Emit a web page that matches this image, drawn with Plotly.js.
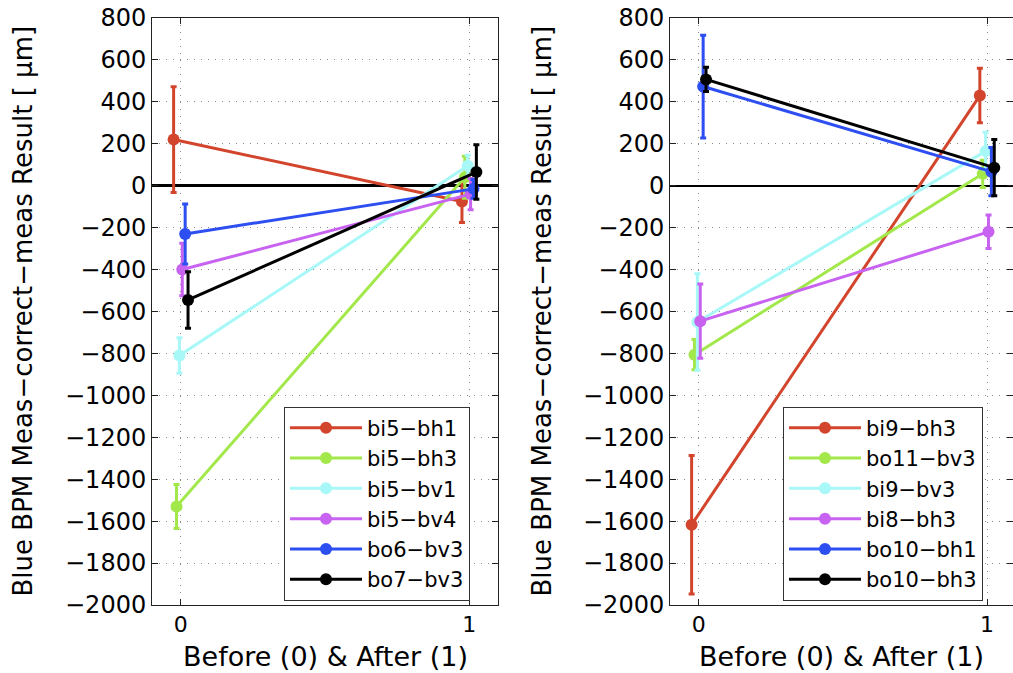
<!DOCTYPE html>
<html>
<head>
<meta charset="utf-8">
<script src="https://cdn.plot.ly/plotly-3.0.1.min.js"></script>
<style>html,body{margin:0;padding:0;background:#fff;overflow:hidden}</style>
</head>
<body>
<div id="chart" style="width:1013px;height:673px"></div>
<script>
// ---- data ----
const xBefore = [-0.025, -0.015, -0.005, 0.005, 0.015, 0.025];
const xAfter  = [0.975, 0.985, 0.995, 1.005, 1.015, 1.025];

const leftNames     = ["bi5−bh1", "bi5−bh3", "bi5−bv1", "bi5−bv4", "bo6−bv3", "bo7−bv3"];
const leftBefore    = [220, -1530, -810, -400, -230, -545];
const leftBeforeErr = [252, 105, 85, 125, 143, 135];
const leftAfter     = [-75, 40, 95, -40, -15, 65];
const leftAfterErr  = [100, 100, 50, 75, 45, 130];

const rightNames     = ["bi9−bh3", "bo11−bv3", "bi9−bv3", "bi8−bh3", "bo10−bh1", "bo10−bh3"];
const rightBefore    = [-1617, -806, -650, -646, 473, 507];
const rightBeforeErr = [330, 72, 230, 177, 245, 58];
const rightAfter     = [430, 57, 165, -220, 67, 86];
const rightAfterErr  = [130, 65, 90, 80, 115, 134];

const seriesColors = ["#d2452c", "#a3e84b", "#a8f8f8", "#c862f0", "#2d4ef0", "#000000"];

const yTickVals = [-2000, -1800, -1600, -1400, -1200, -1000, -800, -600, -400, -200, 0, 200, 400, 600, 800];
const yTickText = ["−2000", "−1800", "−1600", "−1400", "−1200", "−1000", "−800", "−600", "−400", "−200", "0", "200", "400", "600", "800"];
const xTickVals = [0, 1];
const xTickText = ["0", "1"];

const yTitle = "Blue BPM Meas−correct−meas Result [ μm]";
const xTitle = "Before (0) & After (1)";

// ---- build ----
const FONT = "DejaVu Sans, Liberation Sans, Arial, sans-serif";
const traces = [];
function addSet(names, bef, befE, aft, aftE, xa, ya, lg) {
  names.forEach((n, i) => {
    traces.push({
      type: "scatter",
      mode: "lines+markers",
      name: n,
      x: [xBefore[i], xAfter[i]],
      y: [bef[i], aft[i]],
      xaxis: xa, yaxis: ya, legend: lg,
      line: {color: seriesColors[i], width: 3},
      marker: {color: seriesColors[i], size: 12},
      error_y: {type: "data", array: [befE[i], aftE[i]], visible: true,
                color: seriesColors[i], thickness: 3, width: 3},
      hoverinfo: "skip"
    });
  });
}
addSet(leftNames, leftBefore, leftBeforeErr, leftAfter, leftAfterErr, "x", "y", "legend");
addSet(rightNames, rightBefore, rightBeforeErr, rightAfter, rightAfterErr, "x2", "y2", "legend2");

function xAx(domain, range, anchor) {
  return {
    domain: domain, range: range, anchor: anchor,
    tickmode: "array", tickvals: xTickVals, ticktext: xTickText,
    ticks: "inside", ticklen: 6, tickcolor: "#222",
    showline: true, linecolor: "#222", linewidth: 1, mirror: "ticks",
    showgrid: true, gridcolor: "#8a8a8a", gridwidth: 1, griddash: "1px,6px",
    zeroline: false,
    tickfont: {family: FONT, size: 22, color: "#000"}
  };
}
function yAx(anchor, zw) {
  return {
    domain: [0, 1], range: [-2000, 800], anchor: anchor,
    tickmode: "array", tickvals: yTickVals, ticktext: yTickText,
    ticks: "inside", ticklen: 6, tickcolor: "#222",
    showline: true, linecolor: "#222", linewidth: 1, mirror: "ticks",
    showgrid: true, gridcolor: "#8a8a8a", gridwidth: 1, griddash: "1px,6px",
    zeroline: true, zerolinecolor: "#000", zerolinewidth: zw,
    tickfont: {family: FONT, size: 24, color: "#000"}
  };
}

const legendBase = {
  font: {family: FONT, size: 21, color: "#000"},
  bgcolor: "#ffffff", bordercolor: "#333", borderwidth: 1,
  itemwidth: 72, xanchor: "left", yanchor: "top", tracegroupgap: 0,
  itemclick: false, itemdoubleclick: false
};

const layout = {
  width: 1013, height: 673,
  margin: {l: 0, r: 0, t: 18, b: 68, pad: 0},
  paper_bgcolor: "#fff", plot_bgcolor: "#fff",
  font: {family: FONT, color: "#000"},
  showlegend: true,
  xaxis: xAx([152/1013, 498/1013], [-0.1, 1.1], "y"),
  yaxis: yAx("x", 3),
  xaxis2: xAx([670/1013, 1], [-0.1, 1.09], "y2"),
  yaxis2: yAx("x2", 2),
  legend: Object.assign({x: 284/1013, y: 0.338}, legendBase),
  legend2: Object.assign({x: 783/1013, y: 0.338}, legendBase),
  annotations: [
    {text: yTitle, xref: "paper", yref: "paper", x: 22/1013, y: 0.5, textangle: -90,
     showarrow: false, xanchor: "center", yanchor: "middle", font: {family: FONT, size: 26}},
    {text: yTitle, xref: "paper", yref: "paper", x: 541/1013, y: 0.5, textangle: -90,
     showarrow: false, xanchor: "center", yanchor: "middle", font: {family: FONT, size: 26}},
    {text: xTitle, xref: "paper", yref: "paper", x: 325/1013, y: -0.088,
     showarrow: false, xanchor: "center", yanchor: "middle", font: {family: FONT, size: 27}},
    {text: xTitle, xref: "paper", yref: "paper", x: 841/1013, y: -0.088,
     showarrow: false, xanchor: "center", yanchor: "middle", font: {family: FONT, size: 27}}
  ]
};

Plotly.newPlot("chart", traces, layout, {displayModeBar: false, staticPlot: true});
</script>
</body>
</html>
